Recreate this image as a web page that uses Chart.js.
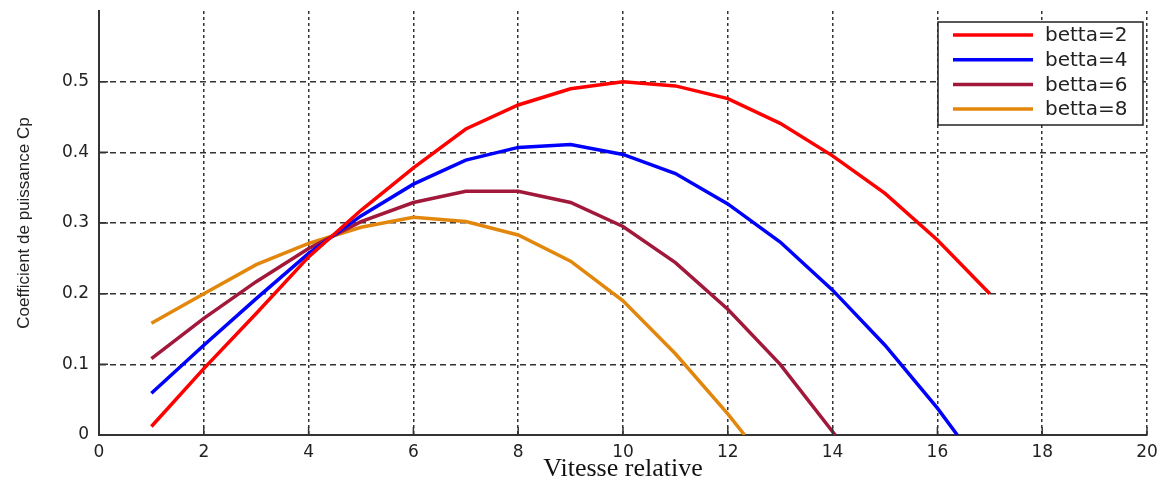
<!DOCTYPE html>
<html>
<head>
<meta charset="utf-8">
<script src="https://cdn.jsdelivr.net/npm/chart.js@4.4.1/dist/chart.umd.min.js"></script>
<style>
  html, body { margin: 0; padding: 0; background: #fff; }
  #wrap { width: 1169px; height: 482px; }
</style>
</head>
<body>
<div id="wrap"><canvas id="cpChart"></canvas></div>
<script>
// --- Data ---
const vitesse2 = [1, 2, 3, 4, 5, 6, 7, 8, 9, 10, 11, 12, 13, 14, 15, 16, 17];
const cpBetta2 = [0.012, 0.094, 0.172, 0.252, 0.318, 0.378, 0.433, 0.467, 0.490, 0.500, 0.494, 0.476, 0.441, 0.395, 0.342, 0.276, 0.200];

const vitesse4 = [1, 2, 3, 4, 5, 6, 7, 8, 9, 10, 11, 12, 13, 14, 15, 16, 16.38];
const cpBetta4 = [0.059, 0.127, 0.193, 0.257, 0.310, 0.355, 0.389, 0.407, 0.411, 0.397, 0.370, 0.327, 0.273, 0.205, 0.127, 0.038, 0];

const vitesse6 = [1, 2, 3, 4, 5, 6, 7, 8, 9, 10, 11, 12, 13, 14.05];
const cpBetta6 = [0.108, 0.165, 0.217, 0.264, 0.302, 0.329, 0.345, 0.345, 0.329, 0.295, 0.244, 0.178, 0.100, 0];

const vitesse8 = [1, 2, 3, 4, 5, 6, 7, 8, 9, 10, 11, 12, 12.32];
const cpBetta8 = [0.158, 0.200, 0.241, 0.271, 0.294, 0.308, 0.302, 0.283, 0.246, 0.190, 0.115, 0.030, 0];

const seriesLabels = ["betta=2", "betta=4", "betta=6", "betta=8"];
const seriesColors = ["#ff0000", "#0000ff", "#a2183a", "#e3870c"];

const xTicksMin = 0, xTicksMax = 20, xStep = 2;
const yTicksMin = 0, yTicksMax = 0.6, yStep = 0.1;

const toPoints = (xs, ys) => xs.map((x, i) => ({ x, y: ys[i] }));
const allSeries = [
  toPoints(vitesse2, cpBetta2),
  toPoints(vitesse4, cpBetta4),
  toPoints(vitesse6, cpBetta6),
  toPoints(vitesse8, cpBetta8)
];

// white background
const bgPlugin = {
  id: "bg",
  beforeDraw(chart) {
    const ctx = chart.ctx;
    ctx.save();
    ctx.fillStyle = "#fff";
    ctx.fillRect(0, 0, chart.width, chart.height);
    ctx.restore();
  }
};

// MATLAB-style inward tick marks
const inwardTicks = {
  id: "inwardTicks",
  afterDatasetsDraw(chart) {
    const { ctx, chartArea, scales } = chart;
    ctx.save();
    ctx.strokeStyle = "#333";
    ctx.lineWidth = 1.5;
    ctx.beginPath();
    scales.x.ticks.forEach(t => {
      const px = scales.x.getPixelForValue(t.value);
      ctx.moveTo(px, chartArea.bottom);
      ctx.lineTo(px, chartArea.bottom - 8);
    });
    scales.y.ticks.forEach(t => {
      if (t.value > 0.55) return;
      const py = scales.y.getPixelForValue(t.value);
      ctx.moveTo(chartArea.left, py);
      ctx.lineTo(chartArea.left + 9, py);
    });
    ctx.stroke();
    ctx.restore();
  }
};

// boxed legend inside the plot, top right
const boxLegend = {
  id: "boxLegend",
  afterDraw(chart) {
    const { ctx, chartArea } = chart;
    const w = 205, h = 103;
    const x0 = chartArea.right - 4 - w, y0 = chartArea.top + 11;
    ctx.save();
    ctx.fillStyle = "#fff";
    ctx.fillRect(x0, y0, w, h);
    ctx.strokeStyle = "#222";
    ctx.lineWidth = 1.5;
    ctx.strokeRect(x0, y0, w, h);
    ctx.font = "20px 'DejaVu Sans'";
    ctx.textBaseline = "middle";
    chart.data.datasets.forEach((ds, i) => {
      const y = y0 + 13 + i * 24.7;
      ctx.strokeStyle = ds.borderColor;
      ctx.lineWidth = 3.5;
      ctx.beginPath();
      ctx.moveTo(x0 + 15, y);
      ctx.lineTo(x0 + 95, y);
      ctx.stroke();
      ctx.fillStyle = "#222";
      ctx.fillText(ds.label, x0 + 107, y + 1);
    });
    ctx.restore();
  }
};

new Chart(document.getElementById("cpChart"), {
  type: "line",
  data: {
    datasets: allSeries.map((pts, i) => ({
      label: seriesLabels[i],
      data: pts,
      borderColor: seriesColors[i],
      backgroundColor: seriesColors[i],
      borderWidth: 3.5,
      pointRadius: 0,
      tension: 0,
      fill: false
    }))
  },
  options: {
    responsive: true,
    maintainAspectRatio: false,
    animation: false,
    layout: { padding: { left: 0, right: 22, top: 11, bottom: 0 } },
    plugins: {
      legend: { display: false },
      tooltip: { enabled: false }
    },
    scales: {
      x: {
        type: "linear",
        min: xTicksMin,
        max: xTicksMax,
        ticks: {
          stepSize: xStep,
          color: "#222",
          padding: 7,
          maxRotation: 0,
          font: { family: "'DejaVu Sans'", size: 17 }
        },
        grid: {
          color: c => (c.tick && c.tick.value === 0 ? "transparent" : "#333"),
          lineWidth: 1.5,
          drawTicks: false
        },
        border: { display: true, color: "#333", width: 2, dash: [3, 3] },
        title: {
          display: true,
          text: "Vitesse relative",
          color: "#111",
          font: { family: "'Liberation Serif'", size: 26, lineHeight: 1 },
          padding: { top: 0, bottom: 0 }
        },
        afterFit: s => { s.height = 47; s.paddingLeft = 0; s.paddingRight = 0; }
      },
      y: {
        type: "linear",
        min: yTicksMin,
        max: yTicksMax,
        ticks: {
          stepSize: yStep,
          color: "#222",
          padding: 10,
          font: { family: "'DejaVu Sans'", size: 17 },
          callback: v => (v > 0.55 ? "" : String(Math.round(v * 10) / 10))
        },
        grid: {
          color: c => (c.tick && (c.tick.value === 0 || c.tick.value > 0.55) ? "transparent" : "#333"),
          lineWidth: 1.5,
          drawTicks: false
        },
        border: { display: true, color: "#333", width: 2, dash: [6, 4] },
        title: {
          display: true,
          text: "Coefficient de puissance Cp",
          color: "#222",
          font: { family: "'Liberation Sans'", size: 17, lineHeight: 1 },
          padding: { top: 16, bottom: 0 }
        },
        afterFit: s => { s.width = 99; s.paddingTop = 0; s.paddingBottom = 0; }
      }
    }
  },
  plugins: [bgPlugin, inwardTicks, boxLegend]
});
</script>
</body>
</html>
